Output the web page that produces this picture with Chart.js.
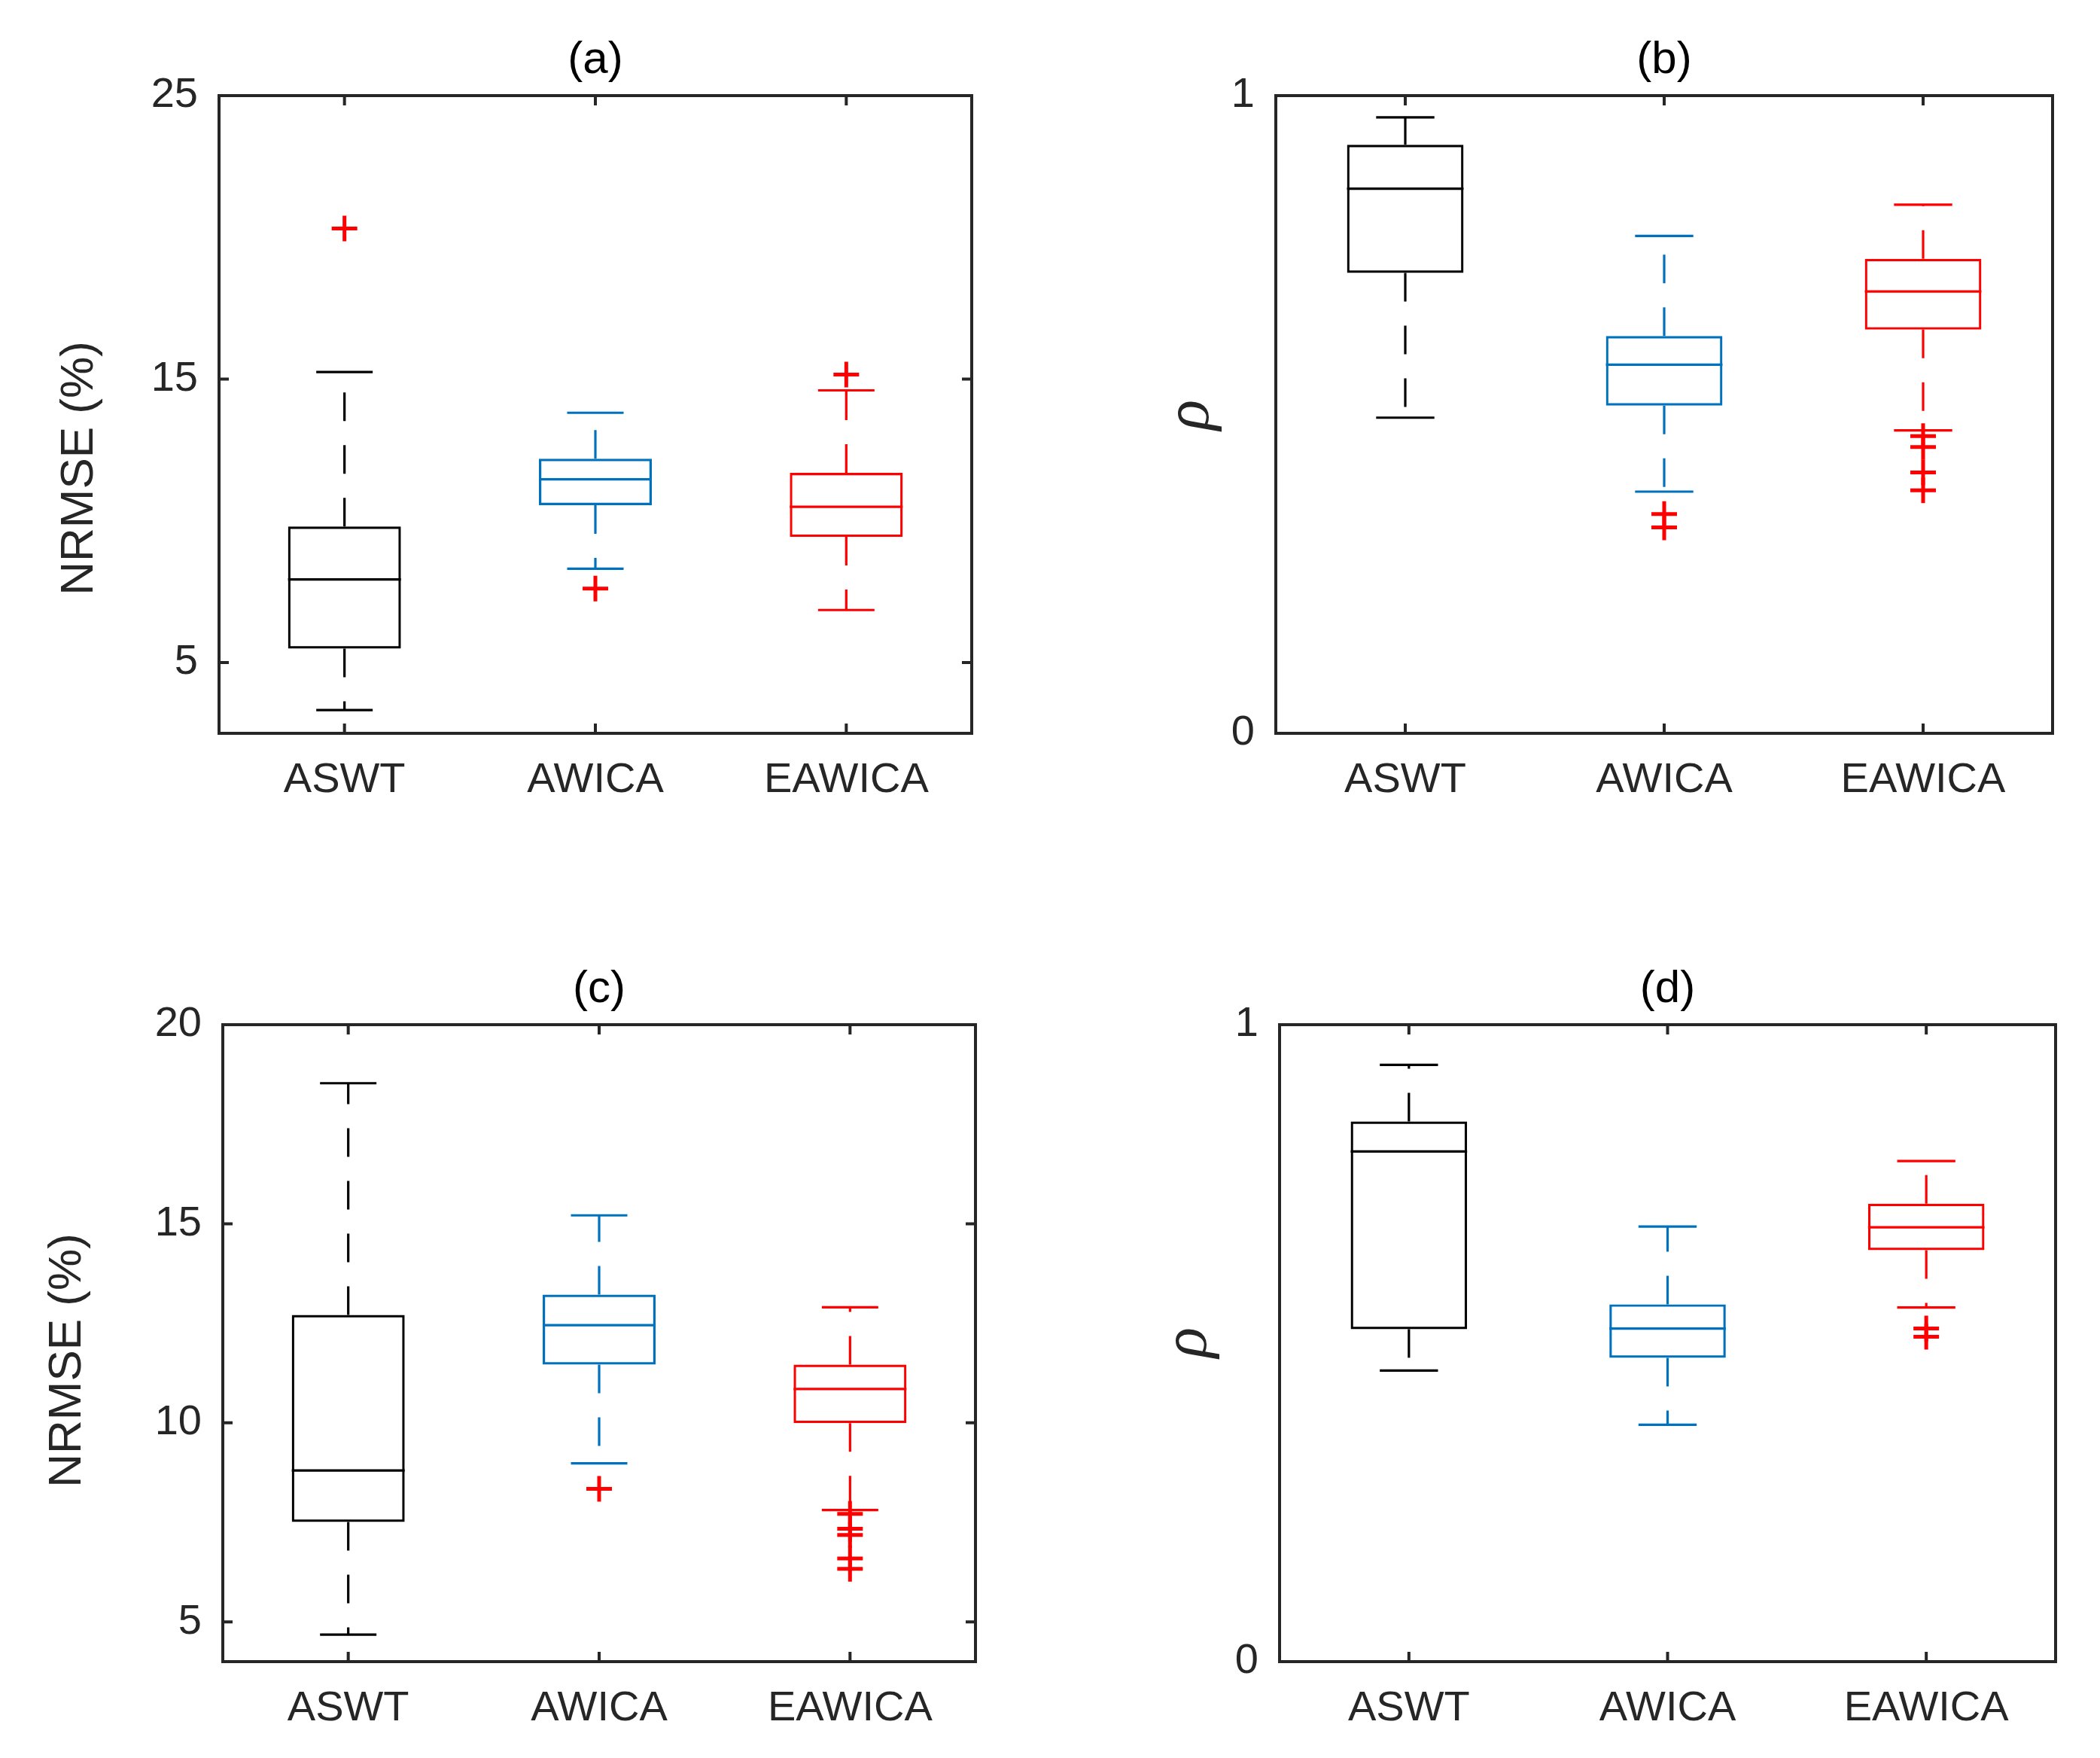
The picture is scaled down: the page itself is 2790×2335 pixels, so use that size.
<!DOCTYPE html>
<html><head><meta charset="utf-8">
<script src="https://cdn.jsdelivr.net/npm/chart.js@4"></script>
<style>
html,body{margin:0;padding:0;background:#fff;width:2790px;height:2335px;overflow:hidden}
canvas{position:absolute}
</style></head><body>
<canvas id="ca" style="left:0px;top:0px" width="1395" height="1167"></canvas>
<canvas id="cb" style="left:1395px;top:0px" width="1395" height="1167"></canvas>
<canvas id="cc" style="left:0px;top:1167px" width="1395" height="1168"></canvas>
<canvas id="cd" style="left:1395px;top:1167px" width="1395" height="1168"></canvas>
<script>
// ---------- data ----------
const categories = ['ASWT', 'AWICA', 'EAWICA'];

// (a) NRMSE (%)
const aLowerWhisker = [3.32, 8.31, 6.85];
const aQ1           = [5.49, 10.55, 9.43];
const aMedian       = [7.93, 11.46, 10.49];
const aQ3           = [9.80, 12.19, 11.69];
const aUpperWhisker = [15.25, 13.81, 14.60];
const aOutliers     = [[20.31], [7.61], [15.16]];
const aTicks        = [5, 15, 25];

// (b) rho
const bLowerWhisker = [0.495, 0.379, 0.475];
const bQ1           = [0.722, 0.514, 0.633];
const bMedian       = [0.854, 0.578, 0.693];
const bQ3           = [0.923, 0.623, 0.744];
const bUpperWhisker = [0.966, 0.780, 0.829];
const bOutliers     = [[], [0.344, 0.323], [0.466, 0.449, 0.409, 0.381]];
const bTicks        = [0, 1];

// (c) NRMSE (%)
const cLowerWhisker = [4.68, 8.98, 7.81];
const cQ1           = [7.51, 11.46, 9.99];
const cMedian       = [8.80, 12.45, 10.85];
const cQ3           = [12.71, 13.22, 11.46];
const cUpperWhisker = [18.53, 15.21, 12.90];
const cOutliers     = [[], [8.34], [7.71, 7.34, 7.18, 6.59, 6.33]];
const cTicks        = [5, 10, 15, 20];

// (d) rho
const dLowerWhisker = [0.457, 0.372, 0.556];
const dQ1           = [0.522, 0.477, 0.646];
const dMedian       = [0.801, 0.523, 0.682];
const dQ3           = [0.848, 0.561, 0.719];
const dUpperWhisker = [0.937, 0.683, 0.786];
const dOutliers     = [[], [], [0.523, 0.510]];
const dTicks        = [0, 1];

// ---------- styles ----------
const boxColors = ['#000000', '#0072BD', '#FF0000'];
const outlierColor = '#FF0000';
const axisColor = '#262626';
const FONT = '"Liberation Sans", Arial, Helvetica, sans-serif';

const boxPlugin = {
  id: 'boxParts',
  beforeDatasetsDraw(chart) {
    const o = chart.options.plugins.boxParts;
    const {ctx} = chart;
    const y = chart.scales.y;
    const meta = chart.getDatasetMeta(0);
    ctx.save();
    ctx.lineWidth = 3.2;
    ctx.lineCap = 'butt';
    o.median.forEach((m, i) => {
      const el = meta.data[i];
      const cx = el.x, bw = el.width;
      ctx.strokeStyle = boxColors[i];
      // whiskers (dashed), drawn from box outward
      ctx.setLineDash([38, 32]);
      ctx.beginPath();
      ctx.moveTo(cx, y.getPixelForValue(o.q3[i]));
      ctx.lineTo(cx, y.getPixelForValue(o.upper[i]));
      ctx.stroke();
      ctx.beginPath();
      ctx.moveTo(cx, y.getPixelForValue(o.q1[i]));
      ctx.lineTo(cx, y.getPixelForValue(o.lower[i]));
      ctx.stroke();
      ctx.setLineDash([]);
      // caps
      const cw = bw / 4;
      [o.upper[i], o.lower[i]].forEach(v => {
        const py = y.getPixelForValue(v);
        ctx.beginPath(); ctx.moveTo(cx - cw, py); ctx.lineTo(cx + cw, py); ctx.stroke();
      });
      // median
      const pm = y.getPixelForValue(m);
      ctx.beginPath(); ctx.moveTo(cx - bw / 2, pm); ctx.lineTo(cx + bw / 2, pm); ctx.stroke();
    });
    ctx.restore();
  },
  afterDraw(chart) {
    const o = chart.options.plugins.boxParts;
    const {ctx, chartArea: a} = chart;
    const x = chart.scales.x, y = chart.scales.y;
    ctx.save();
    ctx.strokeStyle = axisColor;
    ctx.lineWidth = 4;
    ctx.strokeRect(a.left, a.top, a.right - a.left, a.bottom - a.top);
    const tl = 13;
    ctx.beginPath();
    categories.forEach((c, i) => {
      const px = x.getPixelForValue(i);
      ctx.moveTo(px, a.bottom); ctx.lineTo(px, a.bottom - tl);
      ctx.moveTo(px, a.top); ctx.lineTo(px, a.top + tl);
    });
    o.ticks.forEach(v => {
      const py = y.getPixelForValue(v);
      ctx.moveTo(a.left, py); ctx.lineTo(a.left + tl, py);
      ctx.moveTo(a.right, py); ctx.lineTo(a.right - tl, py);
    });
    ctx.stroke();
    // title
    ctx.fillStyle = '#000';
    ctx.font = '60px ' + FONT;
    ctx.textAlign = 'center';
    ctx.textBaseline = 'alphabetic';
    ctx.fillText(o.title, (a.left + a.right) / 2, a.top - 30);
    // y label
    ctx.fillStyle = axisColor;
    ctx.translate(o.ylabelPos[0], o.ylabelPos[1]);
    ctx.rotate(-Math.PI / 2);
    if (o.rho) {
      ctx.font = 'italic 84px "Liberation Serif", "DejaVu Serif", serif';
      ctx.textBaseline = 'middle';
    } else {
      ctx.font = '62px ' + FONT;
      ctx.textBaseline = 'alphabetic';
    }
    ctx.fillText(o.ylabel, 0, 0);
    ctx.restore();
  }
};

function makeChart(id, p) {
  const el = document.getElementById(id);
  const W = el.width, H = el.height;
  const outPts = [];
  p.outliers.forEach((arr, i) => arr.forEach(v => outPts.push({x: categories[i], y: v})));
  return new Chart(el, {
    type: 'bar',
    data: {
      labels: categories,
      datasets: [
        {
          type: 'bar',
          data: p.q1.map((v, i) => [v, p.q3[i]]),
          backgroundColor: 'rgba(0,0,0,0)',
          borderColor: boxColors,
          borderWidth: 3.2,
          borderSkipped: false,
          barPercentage: 0.45,
          categoryPercentage: 1,
          order: 2
        },
        {
          type: 'line',
          data: outPts,
          showLine: false,
          pointStyle: 'cross',
          pointRadius: 17,
          pointBorderWidth: 5,
          pointBorderColor: outlierColor,
          borderColor: outlierColor,
          order: 1
        }
      ]
    },
    options: {
      responsive: false,
      animation: false,
      devicePixelRatio: 1,
      events: [],
      layout: {padding: {left: 0, top: p.area.top, right: W - p.area.right, bottom: 0}},
      plugins: {
        legend: {display: false},
        tooltip: {enabled: false},
        boxParts: {
          lower: p.lower, q1: p.q1, median: p.median, q3: p.q3, upper: p.upper,
          ticks: p.ticks, title: p.title, ylabel: p.ylabel, ylabelPos: p.ylabelPos, rho: p.rho
        }
      },
      scales: {
        x: {
          type: 'category',
          offset: true,
          grid: {display: false},
          border: {display: false},
          ticks: {font: {family: FONT, size: 56}, color: axisColor, padding: 21, maxRotation: 0, autoSkip: false},
          afterFit(s) { s.height = H - p.area.bottom; }
        },
        y: {
          type: 'linear',
          min: p.min, max: p.max,
          grid: {display: false},
          border: {display: false},
          ticks: {font: {family: FONT, size: 56}, color: axisColor, padding: 20},
          afterBuildTicks(s) { s.ticks = p.ticks.map(v => ({value: v})); },
          afterFit(s) { s.width = p.area.left; }
        }
      }
    },
    plugins: [boxPlugin]
  });
}

makeChart('ca', {
  lower: aLowerWhisker, q1: aQ1, median: aMedian, q3: aQ3, upper: aUpperWhisker, outliers: aOutliers,
  ticks: aTicks, min: 2.5, max: 25, title: '(a)', ylabel: 'NRMSE (%)', rho: false,
  area: {left: 291, top: 127, right: 1291, bottom: 974}, ylabelPos: [123, 622]
});
makeChart('cb', {
  lower: bLowerWhisker, q1: bQ1, median: bMedian, q3: bQ3, upper: bUpperWhisker, outliers: bOutliers,
  ticks: bTicks, min: 0, max: 1, title: '(b)', ylabel: 'ρ', rho: true,
  area: {left: 300, top: 127, right: 1332, bottom: 974}, ylabelPos: [188, 551]
});
makeChart('cc', {
  lower: cLowerWhisker, q1: cQ1, median: cMedian, q3: cQ3, upper: cUpperWhisker, outliers: cOutliers,
  ticks: cTicks, min: 4, max: 20, title: '(c)', ylabel: 'NRMSE (%)', rho: false,
  area: {left: 296, top: 194, right: 1296, bottom: 1040}, ylabelPos: [107, 640]
});
makeChart('cd', {
  lower: dLowerWhisker, q1: dQ1, median: dMedian, q3: dQ3, upper: dUpperWhisker, outliers: dOutliers,
  ticks: dTicks, min: 0, max: 1, title: '(d)', ylabel: 'ρ', rho: true,
  area: {left: 305, top: 194, right: 1336, bottom: 1040}, ylabelPos: [185, 616]
});
</script>
</body></html>
